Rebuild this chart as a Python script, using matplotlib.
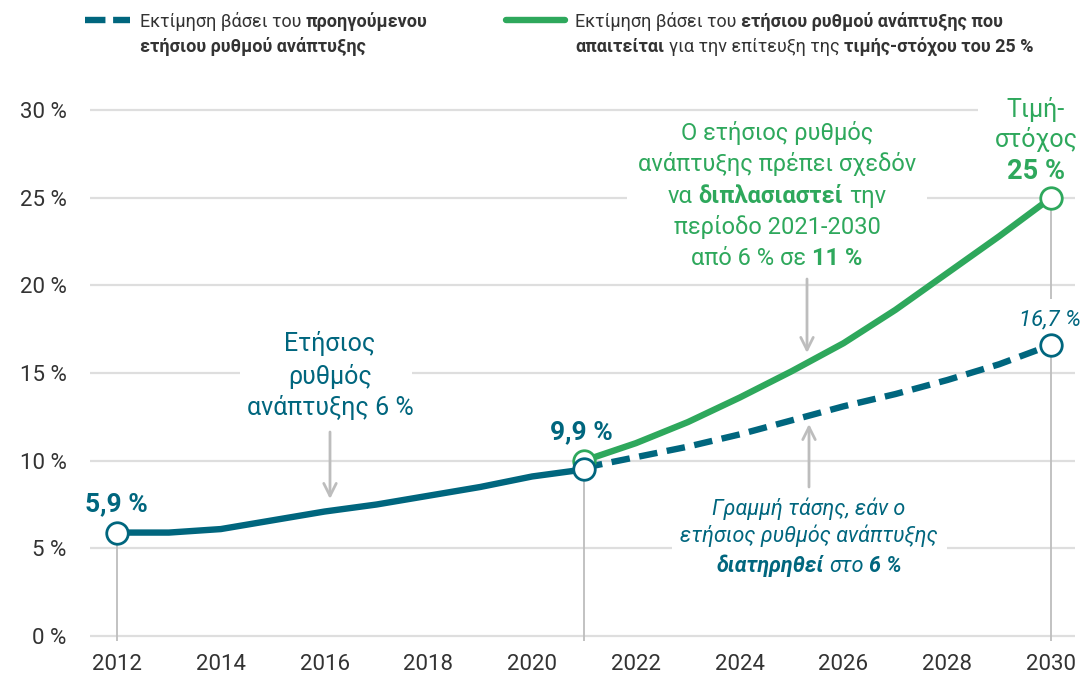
import matplotlib
matplotlib.use("Agg")
import matplotlib.pyplot as plt
from matplotlib.transforms import IdentityTransform
from matplotlib.patches import Rectangle

# ---------------- data ----------------
years_hist = [2012, 2013, 2014, 2015, 2016, 2017, 2018, 2019, 2020, 2021]
share_hist = [5.9, 5.9, 6.1, 6.6, 7.1, 7.5, 8.0, 8.5, 9.1, 9.5]
years_proj = [2021, 2022, 2023, 2024, 2025, 2026, 2027, 2028, 2029, 2030]
share_trend = [9.6, 10.2, 10.8, 11.5, 12.3, 13.1, 13.8, 14.6, 15.5, 16.6]
share_target = [10.0, 11.0, 12.2, 13.6, 15.1, 16.7, 18.6, 20.7, 22.8, 25.0]
x_ticks = [2012, 2014, 2016, 2018, 2020, 2022, 2024, 2026, 2028, 2030]
y_ticks = [0, 5, 10, 15, 20, 25, 30]
y_labels = ["0 %", "5 %", "10 %", "15 %", "20 %", "25 %", "30 %"]

TEAL = "#00667E"
GREEN = "#2EA85C"
GRAY = "#BDBDBD"
GRID = "#DEDEDE"
DARK = "#333333"
FAM = ["Roboto", "DejaVu Sans"]
plt.rcParams["font.family"] = FAM

W, H = 1087, 677
fig = plt.figure(figsize=(W / 100, H / 100), dpi=100)
ax = fig.add_axes([90 / W, 1 - 641.3 / H, 985 / W, (641.3 - 101.2) / H])
ax.set_xlim(2011.48, 2030.46)
ax.set_ylim(-0.3, 30.5)
for s in ax.spines.values():
    s.set_visible(False)
ax.set_yticks(y_ticks)
ax.set_yticklabels(y_labels)
ax.set_xticks(x_ticks)
ax.tick_params(length=0, labelsize=16, labelcolor=DARK)
ax.tick_params(axis="y", pad=17)
ax.tick_params(axis="x", pad=9)
ax.set_axisbelow(True)
ax.yaxis.grid(True, color=GRID, lw=1.6)

# drop lines
ax.vlines(years_hist[0], -0.3, share_hist[0], color=GRAY, lw=1.3, zorder=2.5)
ax.vlines(years_hist[-1], -0.3, share_hist[-1], color=GRAY, lw=1.3, zorder=2.5)
ax.vlines(years_proj[-1], -0.3, share_trend[-1], color=GRAY, lw=1.3, zorder=2.5)
ax.vlines(years_proj[-1], 19.2, share_target[-1], color=GRAY, lw=1.3, zorder=2.5)

# lines
ax.plot(years_proj, share_target, color=GREEN, lw=4.6, zorder=3.5,
        solid_capstyle="butt")
ax.plot(years_proj, share_trend, color=TEAL, lw=4.6, zorder=3.6,
        dashes=(2.9, 1.5), dash_capstyle="butt")
ax.plot(years_hist, share_hist, color=TEAL, lw=4.6, zorder=4,
        solid_capstyle="butt", solid_joinstyle="round")

mk = dict(marker="o", ms=15.5, mfc="white", mew=2.0, ls="none")
ax.plot([years_proj[0]], [share_target[0]], mec=GREEN, zorder=5, **mk)
ax.plot([years_proj[-1]], [share_target[-1]], mec=GREEN, zorder=5, **mk)
ax.plot([years_hist[0]], [share_hist[0]], mec=TEAL, zorder=6, **mk)
ax.plot([years_hist[-1]], [share_hist[-1]], mec=TEAL, zorder=6, **mk)
ax.plot([years_proj[-1]], [share_trend[-1]], mec=TEAL, zorder=6, **mk)

# white boxes breaking gridlines behind text (pixel coords from top)
def wbox(x0, x1, y0, y1):
    ax.add_patch(Rectangle((x0, H - y1), x1 - x0, y1 - y0,
                           transform=IdentityTransform(), facecolor="white",
                           edgecolor="none", zorder=1, clip_on=False))

wbox(240, 412, 325, 425)
wbox(627, 927, 114, 272)
wbox(978, 1087, 92, 185)
wbox(672, 947, 495, 580)

fig.canvas.draw()
R = fig.canvas.get_renderer()

def measure(t, size, weight, style):
    tt = fig.text(0, 0, t, fontsize=size, fontweight=weight, fontstyle=style)
    w = tt.get_window_extent(R).width
    tt.remove()
    return w

def rich(x, y, segs, size, color, ha="center", zorder=10):
    """segs: list of (text, weight, style); y is baseline pixel from top."""
    widths = []
    for t, wgt, sty in segs:
        if t == " ":
            widths.append(measure("x x", size, wgt, sty) - measure("xx", size, wgt, sty))
        else:
            widths.append(measure(t, size, wgt, sty))
    total = sum(widths)
    if ha == "center":
        cx = x - total / 2
    elif ha == "right":
        cx = x - total
    else:
        cx = x
    for (t, wgt, sty), w in zip(segs, widths):
        if t != " ":
            fig.text(cx, H - y, t, fontsize=size, fontweight=wgt, fontstyle=sty,
                     color=color, ha="left", va="baseline",
                     transform=IdentityTransform(), zorder=zorder)
        cx += w

N, B = "normal", "bold"
I = "italic"
SP = (" ", N, N)

# value labels
rich(116, 511, [("5,9 %", B, N)], 19, TEAL)
rich(581, 439, [("9,9 %", B, N)], 19, TEAL)
rich(1050, 325, [("16,7 %", N, I)], 16, TEAL)
rich(1036, 117, [("Τιμή-", N, N)], 18, GREEN)
rich(1036, 147, [("στόχος", N, N)], 18, GREEN)
rich(1036, 179, [("25 %", B, N)], 19.5, GREEN)

# left annotation
rich(330, 351, [("Ετήσιος", N, N)], 18, TEAL)
rich(330, 384, [("ρυθμός", N, N)], 18, TEAL)
rich(330, 415, [("ανάπτυξης 6 %", N, N)], 18, TEAL)

# green annotation
gx = 777
rich(gx, 140, [("Ο ετήσιος ρυθμός", N, N)], 17, GREEN)
rich(gx, 171, [("ανάπτυξης πρέπει σχεδόν", N, N)], 17, GREEN)
rich(gx, 203, [("να", N, N), SP, ("διπλασιαστεί", B, N), SP, ("την", N, N)], 17, GREEN)
rich(gx, 234, [("περίοδο 2021-2030", N, N)], 17, GREEN)
rich(gx, 265, [("από 6 % σε", N, N), SP, ("11 %", B, N)], 17, GREEN)

# italic annotation
ix = 809
rich(ix, 515, [("Γραμμή τάσης, εάν ο", N, I)], 15.5, TEAL)
rich(ix, 542, [("ετήσιος ρυθμός ανάπτυξης", N, I)], 15.5, TEAL)
rich(ix, 572, [("διατηρηθεί", B, I), (" ", N, I), ("στο", N, I), (" ", N, I),
               ("6 %", B, I)], 15.5, TEAL)

# arrows (figure pixels, origin bottom-left)
def arrow(x, y_from, y_to):
    ax.annotate("", xy=(x, H - y_to), xytext=(x, H - y_from),
                xycoords="figure pixels", textcoords="figure pixels",
                arrowprops=dict(arrowstyle="->,head_length=0.9,head_width=0.45",
                                color=GRAY, lw=2.0, shrinkA=0, shrinkB=0),
                zorder=8)

arrow(330, 432, 499)
arrow(807, 279, 353)
arrow(809, 487, 424)

# legend
LS = 13
ax.add_line(plt.Line2D([85, 130], [H - 20, H - 20], transform=IdentityTransform(),
                       color=TEAL, lw=4.6, dashes=(3.2, 1.2), clip_on=False))
ax.add_line(plt.Line2D([506, 565], [H - 20, H - 20], transform=IdentityTransform(),
                       color=GREEN, lw=4.6, solid_capstyle="round", clip_on=False))
rich(140, 27, [("Εκτίμηση βάσει του", N, N), SP, ("προηγούμενου", B, N)], LS, DARK, ha="left")
rich(140, 52, [("ετήσιου ρυθμού ανάπτυξης", B, N)], LS, DARK, ha="left")
rich(575, 27, [("Εκτίμηση βάσει του", N, N), SP, ("ετήσιου ρυθμού ανάπτυξης που", B, N)],
     LS, DARK, ha="left")
rich(575, 52, [("απαιτείται", B, N), SP, ("για την επίτευξη της", N, N), SP,
               ("τιμής-στόχου του 25 %", B, N)], LS, DARK, ha="left")

fig.savefig("out.png", dpi=100)
